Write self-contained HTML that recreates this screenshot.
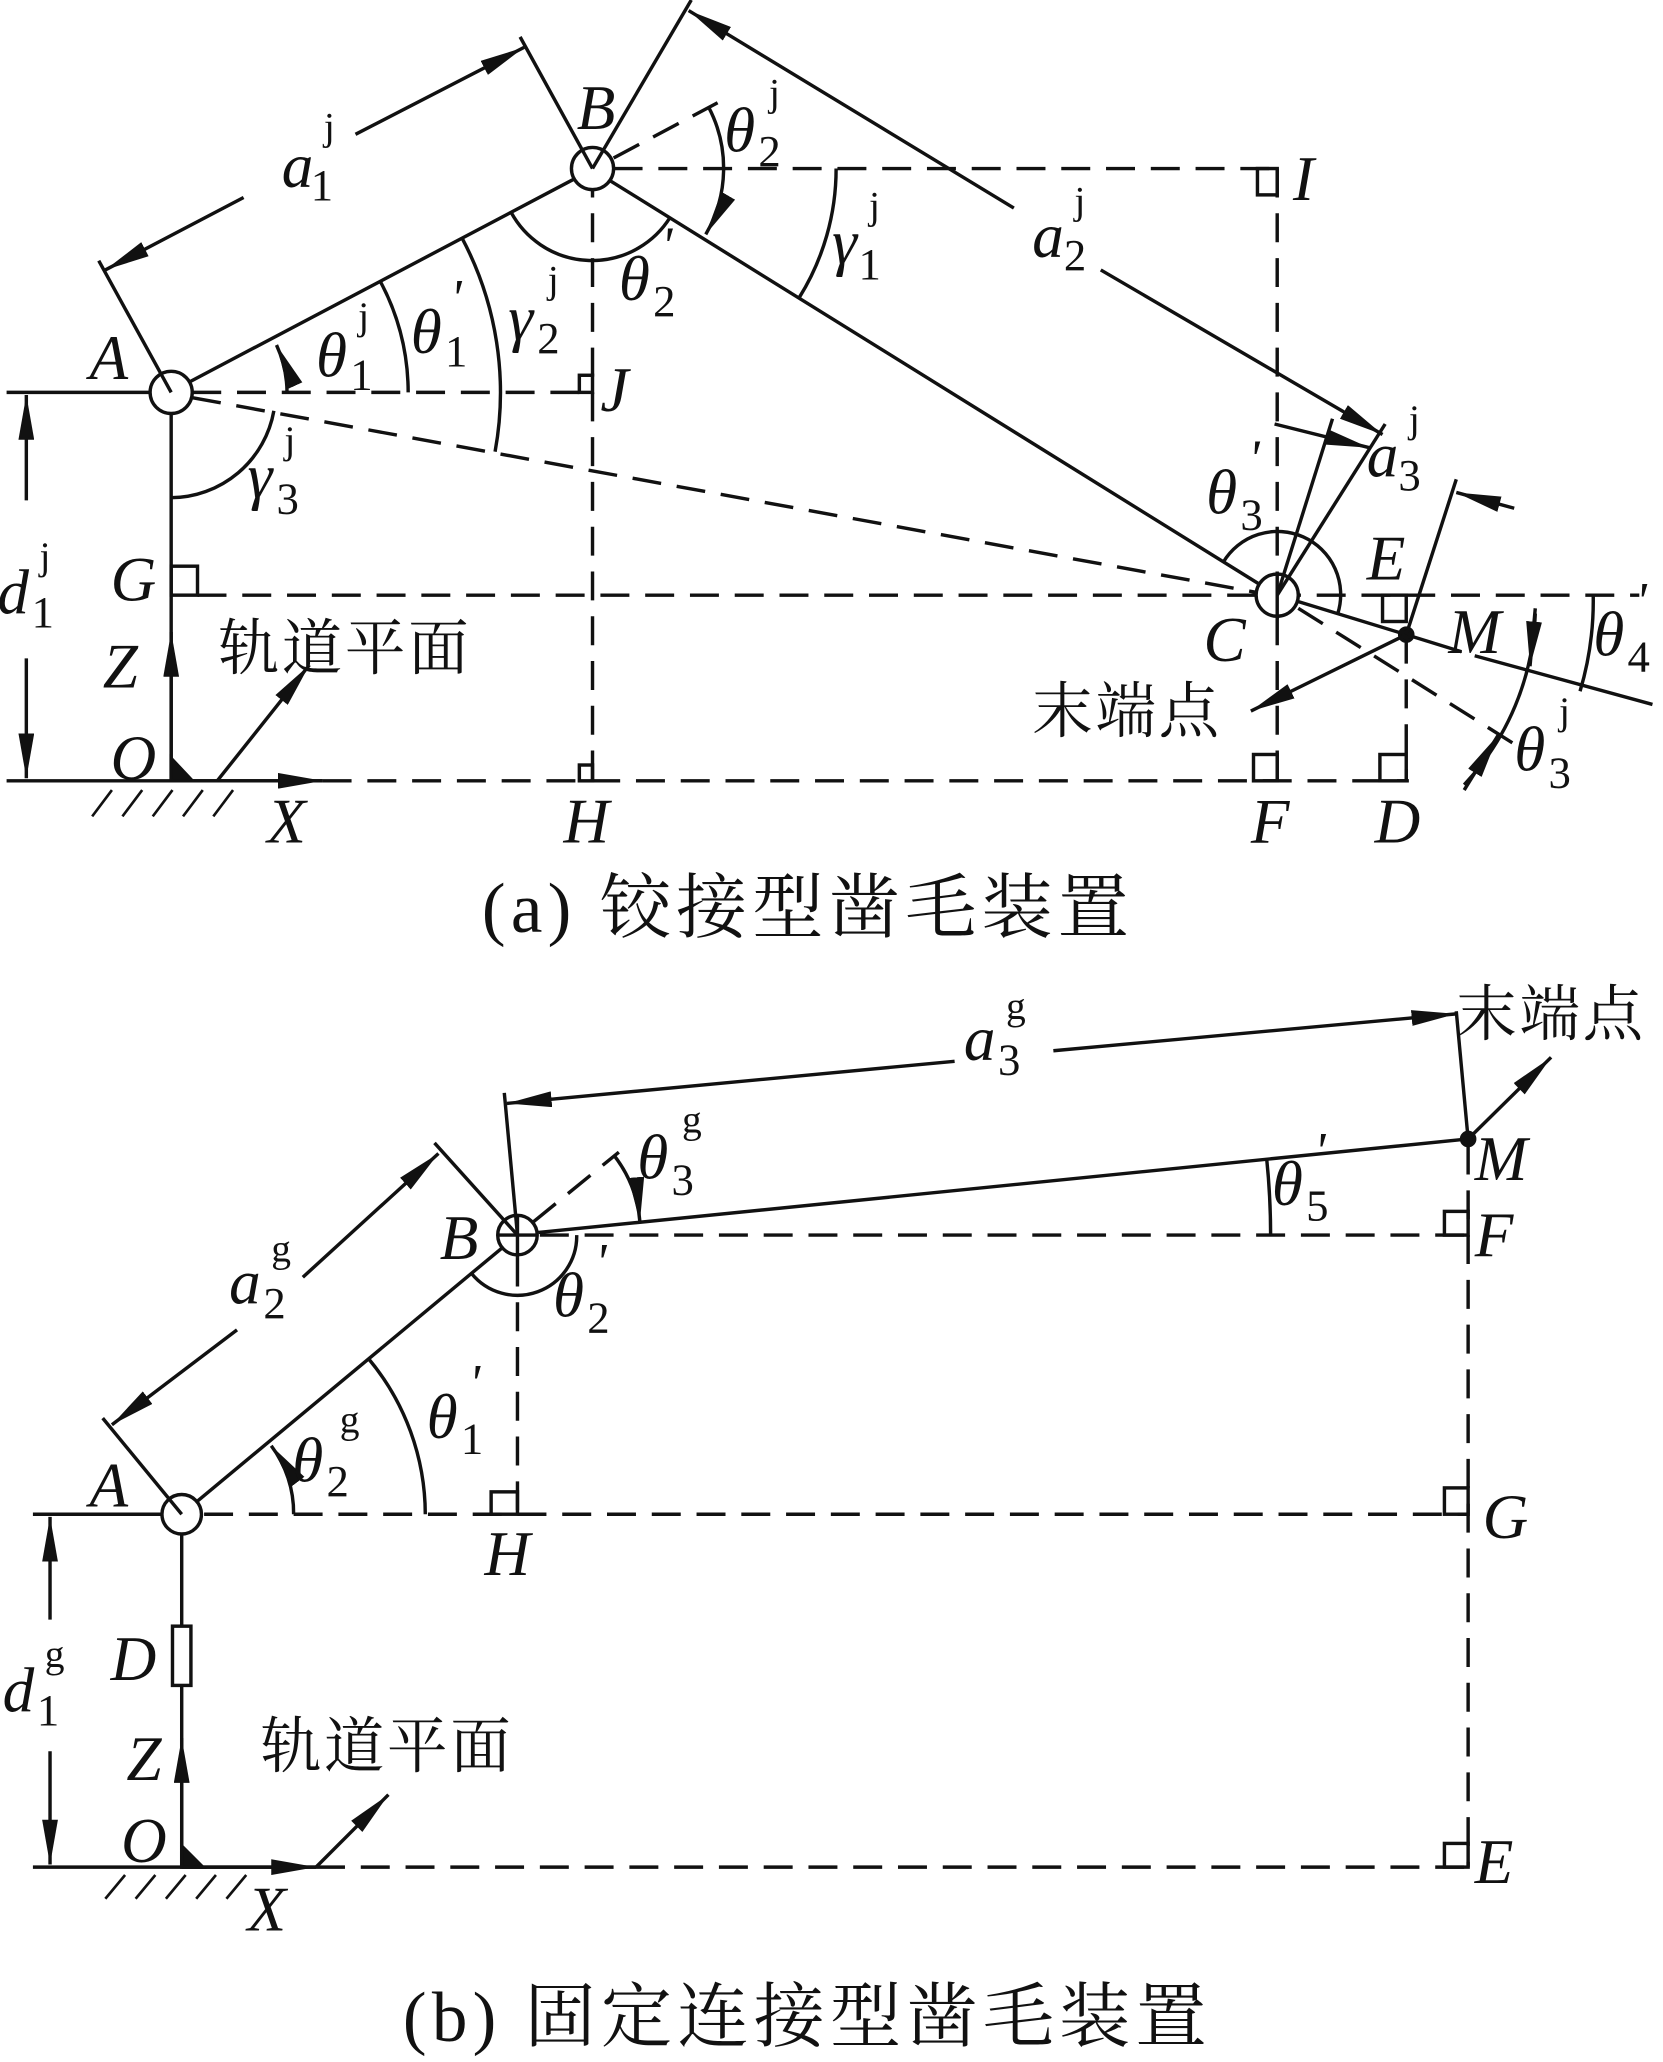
<!DOCTYPE html>
<html><head><meta charset="utf-8"><style>
html,body{margin:0;padding:0;background:#fff;}
svg{display:block;}
text{font-family:"Liberation Serif","Noto Serif CJK SC",serif;fill:#111;}
.i{font-style:italic;}
.cn{font-family:"Liberation Serif","Noto Serif CJK SC","Noto Sans CJK SC",serif;}
</style></head><body>
<svg width="1663" height="2062" viewBox="0 0 1263 1566" preserveAspectRatio="none" xmlns="http://www.w3.org/2000/svg">
<defs>
<marker id="ar" viewBox="0 0 34 12" refX="34" refY="6" markerWidth="34" markerHeight="12" markerUnits="userSpaceOnUse" orient="auto-start-reverse">
<path d="M0,0 L34,6 L0,12 Z" fill="#111"/></marker>
</defs>
<g stroke="#111" stroke-width="2.6" fill="none">
<g stroke-dasharray="22,12">
<line x1="146" y1="298" x2="440" y2="298"/>
<line x1="146" y1="302" x2="955" y2="450"/>
<line x1="450" y1="128" x2="450" y2="593"/>
<line x1="466" y1="128" x2="970" y2="128"/>
<line x1="970" y1="128" x2="970" y2="593"/>
<line x1="150" y1="452" x2="1245" y2="452"/>
<line x1="245" y1="593" x2="1070" y2="593"/>
<line x1="1068" y1="482" x2="1068" y2="593"/>
<line x1="986" y1="462" x2="1150" y2="565"/>
<line x1="466" y1="120" x2="545" y2="78"/>
</g>
<line x1="5" y1="298" x2="114" y2="298"/>
<line x1="130" y1="314" x2="130" y2="593"/>
<line x1="5" y1="593" x2="245" y2="593"/>
<line x1="130" y1="593" x2="130" y2="480" marker-end="url(#ar)"/>
<line x1="130" y1="593" x2="245" y2="593" marker-end="url(#ar)"/>
<line x1="165" y1="593" x2="235" y2="505" marker-end="url(#ar)"/>
<path d="M130,576 L146,593 L130,593Z" fill="#111"/>
<g stroke-width="2"><line x1="70" y1="620" x2="85" y2="600"/><line x1="93" y1="620" x2="108" y2="600"/><line x1="116" y1="620" x2="131" y2="600"/><line x1="139" y1="620" x2="154" y2="600"/><line x1="162" y1="620" x2="177" y2="600"/></g>
<line x1="20" y1="380" x2="20" y2="300" marker-end="url(#ar)"/>
<line x1="20" y1="500" x2="20" y2="591" marker-end="url(#ar)"/>
<line x1="144" y1="290" x2="436" y2="136"/>
<line x1="463" y1="137" x2="957" y2="444"/>
<line x1="970" y1="452" x2="1068" y2="482"/>
<line x1="1068" y1="482" x2="1110" y2="495"/>
<line x1="1120" y1="498" x2="1255" y2="535"/>
<line x1="1068" y1="482" x2="950" y2="540" marker-end="url(#ar)"/>
<circle cx="1068" cy="482" r="5" fill="#111"/>
<circle cx="130" cy="298" r="16" fill="#fff"/>
<circle cx="450" cy="128" r="16" fill="#fff"/>
<circle cx="970" cy="452" r="16" fill="#fff"/>
<line x1="970" y1="436" x2="970" y2="470"/>
<rect x="130" y="430" width="20" height="22"/>
<rect x="440" y="285" width="10" height="13"/>
<rect x="440" y="581" width="10" height="12"/>
<rect x="955" y="128" width="15" height="20"/>
<rect x="952" y="573" width="18" height="20"/>
<rect x="1048" y="573" width="20" height="20"/>
<rect x="1050" y="452" width="18" height="20"/>
<line x1="130" y1="298" x2="75" y2="198"/>
<line x1="450" y1="128" x2="395" y2="28"/>
<line x1="185" y1="150" x2="80" y2="205" marker-end="url(#ar)"/>
<line x1="270" y1="102" x2="398" y2="36" marker-end="url(#ar)"/>
<line x1="450" y1="128" x2="525" y2="0"/>
<line x1="970" y1="452" x2="1052" y2="322"/>
<line x1="770" y1="158" x2="523" y2="8" marker-end="url(#ar)"/>
<line x1="836" y1="205" x2="1050" y2="330" marker-end="url(#ar)"/>
<line x1="970" y1="452" x2="1012" y2="318"/>
<line x1="1068" y1="482" x2="1106" y2="364"/>
<line x1="968" y1="322" x2="1040" y2="340" marker-end="url(#ar)"/>
<line x1="1150" y1="386" x2="1106" y2="374" marker-end="url(#ar)"/>
<path d="M130,378 A80,80 0 0 0 208,312"/>
<path d="M218,298 A88,88 0 0 0 210,262" marker-end="url(#ar)"/>
<path d="M310,298 A180,180 0 0 0 289,214"/>
<path d="M376,343 A250,250 0 0 0 351,181"/>
<path d="M388,161 A70,70 0 0 0 509,165"/>
<path d="M538,81 A100,100 0 0 1 536,178" marker-end="url(#ar)"/>
<path d="M635,128 A185,185 0 0 1 607,226"/>
<path d="M929,427 A48,48 0 0 1 1016,466"/>
<path d="M1166,466 A200,200 0 0 1 1112,596"/>
<line x1="1166" y1="462" x2="1162" y2="506" marker-end="url(#ar)"/>
<line x1="1112" y1="600" x2="1138" y2="558" marker-end="url(#ar)"/>
<path d="M1210,452 A240,240 0 0 1 1200,525"/>

<g stroke-dasharray="22,12">
<line x1="155" y1="1150" x2="1115" y2="1150"/>
<line x1="410" y1="938" x2="1115" y2="938"/>
<line x1="393" y1="955" x2="393" y2="1150"/>
<line x1="1115" y1="870" x2="1115" y2="1418"/>
<line x1="240" y1="1418" x2="1115" y2="1418"/>
<line x1="405" y1="928" x2="470" y2="875"/>
</g>
<line x1="25" y1="1150" x2="122" y2="1150"/>
<line x1="138" y1="1166" x2="138" y2="1418"/>
<line x1="25" y1="1418" x2="240" y2="1418"/>
<line x1="138" y1="1418" x2="138" y2="1320" marker-end="url(#ar)"/>
<line x1="138" y1="1418" x2="240" y2="1418" marker-end="url(#ar)"/>
<line x1="240" y1="1418" x2="295" y2="1363" marker-end="url(#ar)"/>
<path d="M138,1402 L154,1418 L138,1418Z" fill="#111"/>
<g stroke-width="2"><line x1="80" y1="1442" x2="95" y2="1424"/><line x1="103" y1="1442" x2="118" y2="1424"/><line x1="126" y1="1442" x2="141" y2="1424"/><line x1="149" y1="1442" x2="164" y2="1424"/><line x1="172" y1="1442" x2="187" y2="1424"/></g>
<rect x="131" y="1235" width="14" height="45" fill="#fff"/>
<line x1="38" y1="1230" x2="38" y2="1152" marker-end="url(#ar)"/>
<line x1="38" y1="1330" x2="38" y2="1416" marker-end="url(#ar)"/>
<line x1="150" y1="1140" x2="381" y2="948"/>
<line x1="409" y1="936" x2="1115" y2="865"/>
<line x1="1115" y1="865" x2="1106" y2="768"/>
<line x1="1115" y1="865" x2="1178" y2="803" marker-end="url(#ar)"/>
<circle cx="1115" cy="865" r="5" fill="#111"/>
<circle cx="138" cy="1150" r="15" fill="#fff"/>
<circle cx="393" cy="938" r="15" fill="#fff"/>
<line x1="393" y1="923" x2="393" y2="955"/>
<line x1="378" y1="938" x2="408" y2="938"/>
<rect x="373" y="1133" width="20" height="17"/>
<rect x="1097" y="1130" width="18" height="20"/>
<rect x="1097" y="920" width="18" height="18"/>
<rect x="1097" y="1400" width="18" height="18"/>
<line x1="138" y1="1150" x2="78" y2="1077"/>
<line x1="393" y1="938" x2="330" y2="868"/>
<line x1="180" y1="1010" x2="85" y2="1082" marker-end="url(#ar)"/>
<line x1="230" y1="970" x2="333" y2="876" marker-end="url(#ar)"/>
<line x1="393" y1="938" x2="383" y2="830"/>
<line x1="725" y1="806" x2="385" y2="838" marker-end="url(#ar)"/>
<line x1="800" y1="798" x2="1106" y2="770" marker-end="url(#ar)"/>
<path d="M223,1150 A85,85 0 0 0 206,1098" marker-end="url(#ar)"/>
<path d="M323,1150 A185,185 0 0 0 280,1032"/>
<path d="M358,967 A45,45 0 0 0 438,938"/>
<path d="M466,877 A95,95 0 0 1 486,928" marker-end="url(#ar)"/>
<path d="M965,938 A572,572 0 0 0 962,880"/>
</g>
<g class="i" font-size="48">
<text x="68" y="288">A</text>
<text x="438" y="98">B</text>
<text x="982" y="152">I</text>
<text x="456" y="312">J</text>
<text x="84" y="456">G</text>
<text x="78" y="522">Z</text>
<text x="84" y="592">O</text>
<text x="203" y="640">X</text>
<text x="428" y="640">H</text>
<text x="914" y="502">C</text>
<text x="1038" y="440">E</text>
<text x="1100" y="496">M</text>
<text x="950" y="640">F</text>
<text x="1044" y="640">D</text>
</g>
<g font-size="48">
<text class="i" x="214" y="142">a</text><text x="236" y="152" font-size="34">1</text><text x="246" y="106" font-size="30">j</text>
<text class="i" x="784" y="195">a</text><text x="808" y="205" font-size="34">2</text><text x="816" y="162" font-size="30">j</text>
<text class="i" x="1038" y="362">a</text><text x="1062" y="372" font-size="34">3</text><text x="1070" y="328" font-size="30">j</text>
<text class="i" x="-2" y="466">d</text><text x="24" y="476" font-size="34">1</text><text x="30" y="432" font-size="30">j</text>
<text class="i" x="240" y="286">θ</text><text x="266" y="296" font-size="34">1</text><text x="272" y="250" font-size="30">j</text>
<text class="i" x="312" y="268">θ</text><text x="338" y="278" font-size="34">1</text><text class="i" x="342" y="240" font-size="40">'</text>
<text class="i" x="386" y="258">γ</text><text x="408" y="268" font-size="34">2</text><text x="416" y="222" font-size="30">j</text>
<text class="i" x="188" y="378">γ</text><text x="210" y="390" font-size="34">3</text><text x="216" y="344" font-size="30">j</text>
<text class="i" x="550" y="115">θ</text><text x="576" y="126" font-size="34">2</text><text x="584" y="80" font-size="30">j</text>
<text class="i" x="470" y="228">θ</text><text x="496" y="240" font-size="34">2</text><text class="i" x="502" y="200" font-size="40">'</text>
<text class="i" x="632" y="200">γ</text><text x="652" y="212" font-size="34">1</text><text x="660" y="166" font-size="30">j</text>
<text class="i" x="916" y="390">θ</text><text x="942" y="402" font-size="34">3</text><text class="i" x="948" y="362" font-size="40">'</text>
<text class="i" x="1210" y="498">θ</text><text x="1236" y="510" font-size="34">4</text><text class="i" x="1242" y="470" font-size="40">'</text>
<text class="i" x="1150" y="585">θ</text><text x="1176" y="598" font-size="34">3</text><text x="1184" y="550" font-size="30">j</text>
</g>
<text class="cn" x="166" y="508" font-size="46" letter-spacing="2">轨道平面</text>
<text class="cn" x="784" y="556" font-size="46" letter-spacing="2">末端点</text>
<text class="cn" x="366" y="708" font-size="54" letter-spacing="4">(a) 铰接型凿毛装置</text>
<g class="i" font-size="48">
<text x="68" y="1144">A</text>
<text x="334" y="956">B</text>
<text x="1120" y="896">M</text>
<text x="1120" y="954">F</text>
<text x="1126" y="1168">G</text>
<text x="368" y="1196">H</text>
<text x="84" y="1276">D</text>
<text x="96" y="1352">Z</text>
<text x="92" y="1414">O</text>
<text x="188" y="1466">X</text>
<text x="1120" y="1430">E</text>
</g>
<g font-size="48">
<text class="i" x="732" y="805">a</text><text x="758" y="816" font-size="34">3</text><text x="764" y="774" font-size="30">g</text>
<text class="i" x="174" y="990">a</text><text x="200" y="1001" font-size="34">2</text><text x="206" y="958" font-size="30">g</text>
<text class="i" x="2" y="1300">d</text><text x="28" y="1310" font-size="34">1</text><text x="34" y="1266" font-size="30">g</text>
<text class="i" x="484" y="895">θ</text><text x="510" y="907" font-size="34">3</text><text x="518" y="860" font-size="30">g</text>
<text class="i" x="222" y="1125">θ</text><text x="248" y="1136" font-size="34">2</text><text x="258" y="1088" font-size="30">g</text>
<text class="i" x="324" y="1092">θ</text><text x="350" y="1104" font-size="34">1</text><text class="i" x="356" y="1064" font-size="40">'</text>
<text class="i" x="420" y="1000">θ</text><text x="446" y="1012" font-size="34">2</text><text class="i" x="452" y="972" font-size="40">'</text>
<text class="i" x="966" y="915">θ</text><text x="992" y="927" font-size="34">5</text><text class="i" x="998" y="888" font-size="40">'</text>
</g>
<text class="cn" x="198" y="1342" font-size="46" letter-spacing="2">轨道平面</text>
<text class="cn" x="1106" y="786" font-size="46" letter-spacing="2">末端点</text>
<text class="cn" x="306" y="1550" font-size="54" letter-spacing="4">(b) 固定连接型凿毛装置</text>
</svg>
</body></html>
